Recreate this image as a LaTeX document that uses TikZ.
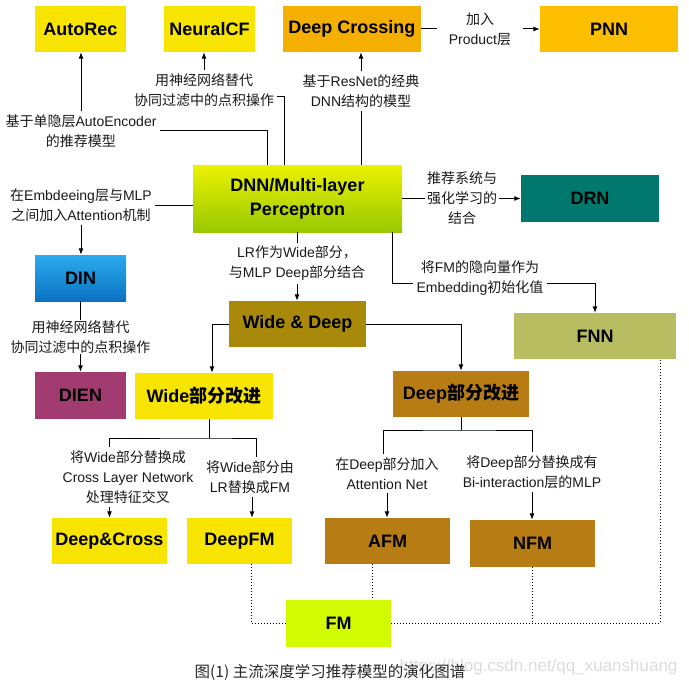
\documentclass[tikz,border=0pt]{standalone}
\usepackage{fontspec}
\setmainfont{Liberation Sans}
\newfontfamily\cjk{Noto Sans CJK SC}
\usetikzlibrary{arrows.meta,calc}
\newcommand\zh[1]{{\cjk #1}}
\definecolor{cyel}{HTML}{F7E400}
\definecolor{corgA}{HTML}{F4AF00}
\definecolor{corgB}{HTML}{FDBF00}
\definecolor{dnnTop}{HTML}{ECF200}
\definecolor{dnnBot}{HTML}{98C800}
\definecolor{cdrn}{HTML}{00786E}
\definecolor{dinTop}{HTML}{2CAAEE}
\definecolor{dinBot}{HTML}{0A72C2}
\definecolor{cdien}{HTML}{A23B70}
\definecolor{cwd}{HTML}{A8890A}
\definecolor{cbrown}{HTML}{B87C14}
\definecolor{cfnn}{HTML}{B8BD62}
\definecolor{cfm}{HTML}{D2FA00}
\definecolor{wm}{HTML}{DCDCDC}
\begin{document}
\begin{tikzpicture}[x=1pt,y=-1pt,
  box/.style={inner sep=0pt, align=center, text=black,
    font=\fontsize{18}{24}\selectfont\bfseries},
  lab/.style={inner sep=3pt, align=center, text=black!90,
    font=\fontsize{14}{20}\selectfont},
  conn/.style={draw, line width=1pt},
  arr/.style={conn, -{Latex[length=6.5pt,width=5pt]}},
  dotl/.style={draw, line width=1pt, dotted}]
\useasboundingbox (0,0) rectangle (689,685);

% ---- boxes ----
\node[box, fill=cyel, minimum width=91pt, minimum height=46pt] (autorec) at (80.5,29) {AutoRec};
\node[box, fill=cyel, minimum width=91pt, minimum height=46pt] (neuralcf) at (209.5,29) {NeuralCF};
\node[box, fill=corgA, minimum width=138pt, minimum height=46pt] (deepcross) at (352,29) {Deep Crossing};
\node[box, fill=corgB, minimum width=138pt, minimum height=46pt] (pnn) at (609,29) {PNN};
\node[box, top color=dnnTop, bottom color=dnnBot, minimum width=209pt, minimum height=67pt] (dnn) at (297.5,198.5) {DNN/Multi-layer\\Perceptron};
\node[box, fill=cdrn, minimum width=138pt, minimum height=47pt] (drn) at (590,198.5) {DRN};
\node[box, top color=dinTop, bottom color=dinBot, minimum width=91pt, minimum height=46pt] (din) at (80.5,278) {DIN};
\node[box, fill=cwd, minimum width=137pt, minimum height=46pt] (wd) at (297.5,324) {Wide \& Deep};
\node[box, fill=cfnn, minimum width=162pt, minimum height=46pt] (fnn) at (595,336) {FNN};
\node[box, fill=cdien, minimum width=91pt, minimum height=47pt] (dien) at (80.5,395.5) {DIEN};
\node[box, fill=cyel, minimum width=138pt, minimum height=46pt] (wideimp) at (204,396) {Wide\zh{部分改进}};
\node[box, fill=cbrown, minimum width=136pt, minimum height=46pt] (deepimp) at (461,394) {Deep\zh{部分改进}};
\node[box, fill=cyel, minimum width=115pt, minimum height=46pt] (dcross) at (109.5,541) {Deep\&Cross};
\node[box, fill=cyel, minimum width=105pt, minimum height=46pt] (dfm) at (239.5,541) {DeepFM};
\node[box, fill=cbrown, minimum width=125pt, minimum height=46pt] (afm) at (387.5,541) {AFM};
\node[box, fill=cbrown, minimum width=125pt, minimum height=47pt] (nfm) at (532.5,543.5) {NFM};
\node[box, fill=cfm, minimum width=105pt, minimum height=47pt] (fm) at (338.5,623.5) {FM};

% ---- labels ----
\node[lab] (lauto) at (81,131) {\zh{基于单隐层}AutoEncoder\\\zh{的推荐模型}};
\node[lab] (lneural) at (204,90) {\zh{用神经网络替代}\\\zh{协同过滤中的点积操作}};
\node[lab] (lcross) at (361,91) {\zh{基于}ResNet\zh{的经典}\\DNN\zh{结构的模型}};
\node[lab, inner xsep=12pt] (lpnn) at (480,29) {\zh{加入}\\Product\zh{层}};
\node[lab, inner xsep=2pt] (ldrn) at (462,198.5) {\zh{推荐系统与}\\\zh{强化学习的}\\\zh{结合}};
\node[lab] (lfnn) at (480,278) {\zh{将}FM\zh{的隐向量作为}\\Embedding\zh{初始化值}};
\node[lab] (ldin) at (81,205) {\zh{在}Embdeeing\zh{层与}MLP\\\zh{之间加入}Attention\zh{机制}};
\node[lab, inner ysep=0pt] (ldien) at (80.5,337) {\zh{用神经网络替代}\\\zh{协同过滤中的点积操作}};
\node[lab] (lwd) at (297,263.5) {LR\zh{作为}Wide\zh{部分，}\\\zh{与}MLP Deep\zh{部分结合}};
\node[lab] (ldc) at (128,477) {\zh{将}Wide\zh{部分替换成}\\Cross Layer Network\\\zh{处理特征交叉}};
\node[lab] (ldfm) at (250,477) {\zh{将}Wide\zh{部分由}\\LR\zh{替换成}FM};
\node[lab] (lafm) at (387,473.5) {\zh{在}Deep\zh{部分加入}\\Attention Net};
\node[lab] (lnfm) at (532,472) {\zh{将}Deep\zh{部分替换成有}\\Bi-interaction\zh{层的}MLP};
\node[font=\fontsize{17}{20}\selectfont, text=wm, anchor=east] (wmark) at (681,667) {https://blog.csdn.net/qq\_xuanshuang};
\node[font=\cjk\fontsize{15.5}{18}\selectfont, text=black!85] (caption) at (330,672) {图(1) 主流深度学习推荐模型的演化图谱};

% ---- connectors ----
\draw[conn] ([xshift=-30.5pt]dnn.north) |- (lauto.east);
\draw[arr] (lauto.north) -- (lauto.north |- autorec.south);
\draw[conn] ([xshift=-13.5pt]dnn.north) |- ([yshift=-7pt]lneural.east);
\draw[arr] (lneural.north) -- (lneural.north |- neuralcf.south);
\draw[conn] (dnn.north -| lcross) -- (lcross.south);
\draw[arr] (lcross.north) -- (lcross.north |- deepcross.south);
\draw[conn] (deepcross.east) -- (lpnn.west);
\draw[arr] (lpnn.east) -- (pnn.west);
\draw[conn] (dnn.east) -- (ldrn.west);
\draw[arr] (ldrn.east) -- (drn.west);
\draw[conn] ([xshift=94.5pt]dnn.south) |- ([yshift=-5pt]lfnn.west);
\draw[arr] ([yshift=-5pt]lfnn.east) -| (fnn.north);
\draw[conn] (ldin.east) -- (ldin.east -| dnn.west);
\draw[arr] (ldin.south) -- (ldin.south |- din.north);
\draw[conn] (din.south) -- (ldien.north);
\draw[arr] (ldien.south) -- (dien.north);
\draw[conn] (dnn.south -| lwd) -- (lwd.north);
\draw[arr] (lwd.south) -- (lwd.south |- wd.north);
\draw[arr] (wd.west) -| ([xshift=8pt]wideimp.north);
\draw[arr] (wd.east) -| (deepimp.north);

\coordinate (wsplit) at (209,438);
\draw[conn] (wideimp.south -| wsplit) -- (wsplit);
\draw[conn] (ldc.north -| dcross.north) |- (wsplit) -| ([xshift=6pt]ldfm.north);
\draw[arr] (ldc.south -| dcross.north) -- (dcross.north);
\draw[arr] ([xshift=2pt]ldfm.south) -- ([xshift=2pt]ldfm.south |- dfm.north);

\coordinate (dsplit) at (461,430);
\draw[conn] (deepimp.south -| dsplit) -- (dsplit);
\draw[conn] ([xshift=-4pt]lafm.north) |- (dsplit) -| (lnfm.north);
\draw[arr] (lafm.south) -- (lafm.south |- afm.north);
\draw[arr] (lnfm.south) -- (lnfm.south |- nfm.north);

\draw[dotl] ([xshift=11.5pt]dfm.south) |- (fm.west);
\draw[dotl] ([xshift=-15.5pt]afm.south) -- ([xshift=-15.5pt]afm.south |- fm.north);
\draw[dotl] (fm.east) -| ([xshift=65pt]fnn.south);
\draw[dotl] (nfm.south) -- (nfm.south |- fm.east);
\end{tikzpicture}
\end{document}
